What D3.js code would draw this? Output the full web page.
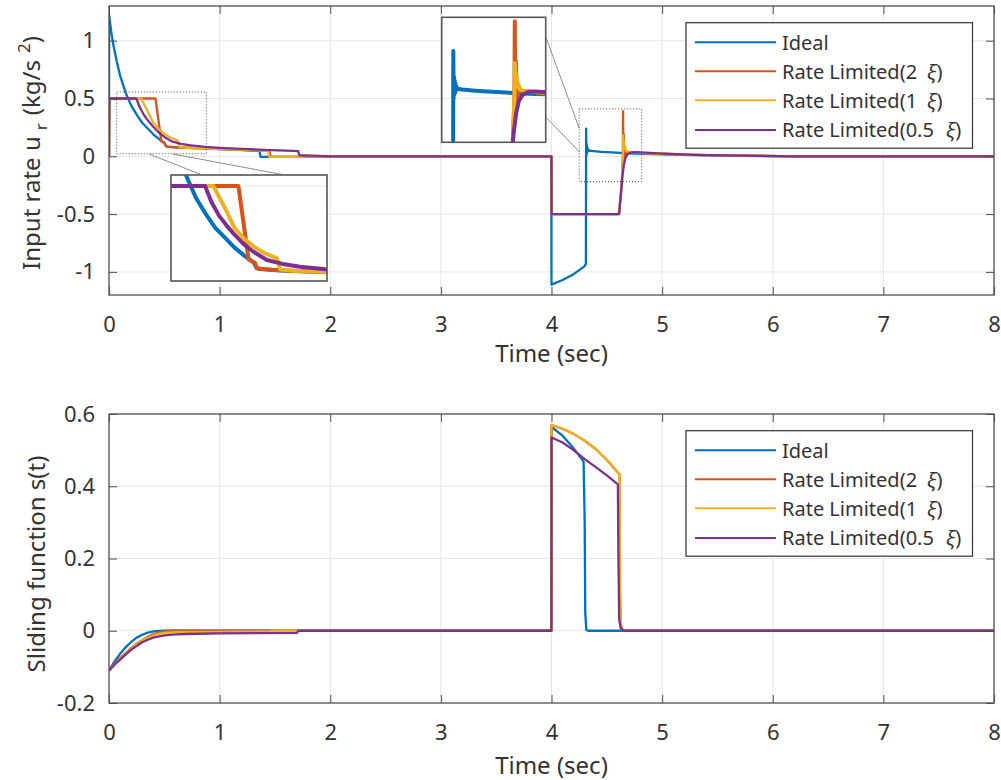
<!DOCTYPE html>
<html>
<head>
<meta charset="utf-8">
<script src="https://cdn.jsdelivr.net/npm/d3@7"></script>
<style>
body { margin: 0; background: #fff; }
svg text { font-family: "Noto Sans", sans-serif; fill: #333; }
</style>
</head>
<body>
<div id="main"></div>
<script>
const W = 1001;
const H = 780;

const seriesNames = ["Ideal", "Rate Limited(2", "Rate Limited(1", "Rate Limited(0.5"];
const seriesColors = ["#0072BD", "#D95319", "#EDB120", "#7E2F8E"];

const xDomain = [0, 8];
const xTicks = [0, 1, 2, 3, 4, 5, 6, 7, 8];
const topYDomain = [-1.2, 1.3];
const topYTicks = [-1, -0.5, 0, 0.5, 1];
const botYDomain = [-0.2, 0.6];
const botYTicks = [-0.2, 0, 0.2, 0.4, 0.6];

// input rate u_r, [time, value]
const uIdeal = [[0,0],[0.001,1.22],[0.02,1.08],[0.04,0.96],[0.07,0.82],[0.1,0.70],[0.15,0.55],[0.2,0.44],
  [0.25,0.36],[0.3,0.29],[0.35,0.24],[0.4,0.19],[0.45,0.15],[0.5,0.115],[0.512,0.09],[0.53,0.082],
  [0.6,0.077],[0.7,0.072],[0.9,0.066],[1.1,0.058],[1.3,0.05],[1.36,0.046],[1.37,-0.005],[1.5,-0.006],
  [1.75,-0.006],[1.8,-0.002],[2,0],[3.999,0],[4.0,-1.11],[4.1,-1.07],[4.2,-1.02],[4.3,-0.95],[4.311,-0.93],
  [4.313,0.24],[4.315,0.0],[4.317,0.11],[4.319,0.02],[4.321,0.09],[4.323,0.03],[4.325,0.075],[4.328,0.04],
  [4.331,0.06],[4.335,0.05],[4.36,0.046],[4.45,0.039],[4.55,0.033],[4.65,0.028],[4.75,0.024],[5.0,0.017],
  [5.3,0.01],[5.7,0.004],[6.2,0],[8,0]];
const uRate2 = [[0,0],[0.003,0.5],[0.42,0.5],[0.473,0.13],[0.505,0.115],[0.516,0.086],[0.6,0.078],
  [0.8,0.07],[1.0,0.063],[1.2,0.056],[1.4,0.05],[1.45,0.048],[1.46,-0.005],[1.74,-0.005],[1.78,0],
  [3.999,0],[4.0,-0.5],[4.61,-0.5],[4.635,-0.25],[4.645,0.0],[4.647,0.39],[4.650,-0.05],[4.653,0.19],
  [4.657,-0.02],[4.660,0.09],[4.664,0.01],[4.668,0.06],[4.675,0.04],[4.72,0.036],[4.8,0.03],[5.0,0.022],
  [5.3,0.012],[5.7,0.005],[6.2,0],[8,0]];
const uRate1 = [[0,0],[0.003,0.5],[0.29,0.5],[0.35,0.39],[0.4,0.29],[0.45,0.235],[0.5,0.195],[0.55,0.165],
  [0.6,0.145],[0.62,0.136],[0.637,0.08],[0.7,0.074],[0.9,0.066],[1.1,0.059],[1.3,0.053],[1.44,0.049],
  [1.45,-0.005],[1.74,-0.005],[1.78,0],[3.999,0],[4.0,-0.5],[4.61,-0.5],[4.635,-0.25],[4.645,0.0],
  [4.647,0.18],[4.652,0.08],[4.657,0.12],[4.662,0.06],[4.668,0.07],[4.675,0.045],[4.69,0.04],[4.72,0.036],
  [4.8,0.03],[5.0,0.022],[5.3,0.012],[5.7,0.005],[6.2,0],[8,0]];
const uRate05 = [[0,0],[0.003,0.5],[0.247,0.5],[0.28,0.42],[0.32,0.35],[0.36,0.30],[0.394,0.262],
  [0.45,0.205],[0.5,0.168],[0.568,0.128],[0.65,0.108],[0.74,0.094],[0.872,0.081],[1.0,0.073],[1.2,0.064],
  [1.4,0.056],[1.6,0.049],[1.71,0.045],[1.72,0.009],[1.9,0.004],[2.0,0],[3.999,0],[4.0,-0.5],[4.61,-0.5],
  [4.625,-0.35],[4.64,-0.18],[4.655,-0.07],[4.67,-0.01],[4.69,0.02],[4.72,0.033],[4.76,0.036],[4.85,0.031],
  [5.0,0.023],[5.3,0.012],[5.7,0.005],[6.2,0],[8,0]];

// sliding function s(t), [time, value]
const sIdeal = [[0,-0.11],[0.05,-0.085],[0.1,-0.064],[0.15,-0.046],[0.2,-0.031],[0.25,-0.019],[0.3,-0.011],
  [0.35,-0.005],[0.42,-0.001],[0.5,0],[3.999,0],[4.0,0.564],[4.1,0.54],[4.2,0.505],[4.29,0.468],
  [4.3,0.3],[4.305,0.05],[4.315,0.002],[4.33,0],[8,0]];
const sRate2 = [[0,-0.11],[0.05,-0.092],[0.1,-0.076],[0.15,-0.062],[0.2,-0.048],[0.25,-0.036],[0.3,-0.026],
  [0.35,-0.017],[0.4,-0.01],[0.45,-0.005],[0.5,-0.002],[0.55,0],[3.999,0],[4.0,0.569],[4.1,0.559],
  [4.2,0.545],[4.3,0.526],[4.4,0.503],[4.5,0.473],[4.6,0.438],[4.615,0.433],[4.62,0.1],[4.625,0.02],
  [4.64,0.003],[4.66,0],[8,0]];
const sRate1 = [[0,-0.11],[0.05,-0.093],[0.1,-0.078],[0.15,-0.064],[0.2,-0.05],[0.25,-0.038],[0.3,-0.028],
  [0.35,-0.02],[0.4,-0.013],[0.45,-0.009],[0.5,-0.006],[0.6,-0.004],[1.0,-0.003],[1.45,-0.002],[1.5,0],
  [3.999,0],[4.0,0.569],[4.1,0.559],[4.2,0.545],[4.3,0.526],[4.4,0.503],[4.5,0.473],[4.6,0.438],
  [4.615,0.433],[4.62,0.1],[4.625,0.02],[4.64,0.003],[4.66,0],[8,0]];
const sRate05 = [[0,-0.11],[0.05,-0.094],[0.1,-0.08],[0.15,-0.066],[0.2,-0.053],[0.25,-0.042],[0.3,-0.032],
  [0.35,-0.025],[0.4,-0.019],[0.5,-0.013],[0.6,-0.01],[0.7,-0.009],[1.0,-0.007],[1.7,-0.006],[1.71,0],
  [3.999,0],[4.0,0.535],[4.1,0.521],[4.2,0.5],[4.3,0.475],[4.4,0.453],[4.5,0.43],[4.6,0.405],
  [4.605,0.2],[4.612,0.03],[4.625,0.008],[4.65,0],[8,0]];

// zoomed windows of the top plot: [t0, t1, v0, v1]
const zoomLeft = [0.07, 0.88, 0.022, 0.556];
const zoomRight = [4.25, 4.815, -0.22, 0.41];

const GRID = "#e6e6e6";
const AXIS = "#4d4d4d";

var ctx = {
    top: {left: 109, right: 994, top: 6, bottom: 295},
    bot: {left: 109, right: 994, top: 414, bottom: 703},
};

var clipCount = 0;

var drawLines = function(g, series, x, y, width, box){
    var id = "clip" + (clipCount++);
    g.append("clipPath").attr("id", id)
     .append("rect")
     .attr("x", box.left).attr("y", box.top)
     .attr("width", box.right - box.left).attr("height", box.bottom - box.top);
    var line = d3.line().x(d => x(d[0])).y(d => y(d[1]));
    g.append("g").attr("clip-path", "url(#" + id + ")")
     .selectAll("path")
     .data(series)
     .enter()
     .append("path")
     .attr("d", d => line(d))
     .attr("fill", "none")
     .attr("stroke", (d, i) => seriesColors[i])
     .attr("stroke-width", width)
     .attr("stroke-linejoin", "round");
};

var makeAxes = function(svg, box, yDomain, yTicks, series){
    var x = d3.scaleLinear().domain(xDomain).range([box.left, box.right]);
    var y = d3.scaleLinear().domain(yDomain).range([box.bottom, box.top]);
    var g = svg.append("g");

    g.append("g").selectAll("line")
     .data(xTicks.slice(1, -1))
     .enter().append("line")
     .attr("x1", d => x(d)).attr("x2", d => x(d))
     .attr("y1", box.top).attr("y2", box.bottom)
     .attr("stroke", GRID);
    g.append("g").selectAll("line")
     .data(yTicks.filter(d => y(d) > box.top + 1 && y(d) < box.bottom - 1))
     .enter().append("line")
     .attr("x1", box.left).attr("x2", box.right)
     .attr("y1", d => y(d)).attr("y2", d => y(d))
     .attr("stroke", GRID);

    drawLines(g, series, x, y, 2.3, box);

    var axes = [
        g.append("g").attr("transform", "translate(0," + box.bottom + ")")
         .call(d3.axisBottom(x).tickValues(xTicks).tickSizeInner(-8).tickSizeOuter(0).tickPadding(21).tickFormat(d => String(d))),
        g.append("g").attr("transform", "translate(0," + box.top + ")")
         .call(d3.axisTop(x).tickValues(xTicks).tickSizeInner(-8).tickSizeOuter(0).tickFormat("")),
        g.append("g").attr("transform", "translate(" + box.left + ",0)")
         .call(d3.axisLeft(y).tickValues(yTicks).tickSizeInner(-8).tickSizeOuter(0).tickPadding(14).tickFormat(d => String(d))),
        g.append("g").attr("transform", "translate(" + box.right + ",0)")
         .call(d3.axisRight(y).tickValues(yTicks).tickSizeInner(-8).tickSizeOuter(0).tickFormat(""))
    ];
    axes.forEach(function(a){
        a.attr("color", AXIS).attr("font-size", 22).attr("font-family", null);
        a.select(".domain").remove();
        a.selectAll("text").style("fill", "#333");
    });

    g.append("rect")
     .attr("x", box.left).attr("y", box.top)
     .attr("width", box.right - box.left).attr("height", box.bottom - box.top)
     .attr("fill", "none").attr("stroke", AXIS).attr("stroke-width", 1.3);

    return {x: x, y: y, g: g};
};

var makeInset = function(ax, win, rect, yGrid, series){
    var g = ax.g.append("g");
    // dotted source window
    g.append("rect")
     .attr("x", ax.x(win[0])).attr("y", ax.y(win[3]))
     .attr("width", ax.x(win[1]) - ax.x(win[0])).attr("height", ax.y(win[2]) - ax.y(win[3]))
     .attr("fill", "none").attr("stroke", "#444").attr("stroke-width", 1)
     .attr("stroke-dasharray", "1,2");
    var ix = d3.scaleLinear().domain([win[0], win[1]]).range([rect.left, rect.right]);
    var iy = d3.scaleLinear().domain([win[2], win[3]]).range([rect.bottom, rect.top]);
    g.append("rect")
     .attr("x", rect.left).attr("y", rect.top)
     .attr("width", rect.right - rect.left).attr("height", rect.bottom - rect.top)
     .attr("fill", "#fff");
    g.append("line")
     .attr("x1", rect.left).attr("x2", rect.right)
     .attr("y1", iy(yGrid)).attr("y2", iy(yGrid))
     .attr("stroke", GRID);
    drawLines(g, series, ix, iy, 4, rect);
    g.append("rect")
     .attr("x", rect.left).attr("y", rect.top)
     .attr("width", rect.right - rect.left).attr("height", rect.bottom - rect.top)
     .attr("fill", "none").attr("stroke", "#555").attr("stroke-width", 1.6);
    return g;
};

var connector = function(g, x1, y1, x2, y2){
    g.append("line")
     .attr("x1", x1).attr("y1", y1).attr("x2", x2).attr("y2", y2)
     .attr("stroke", "#8c8c8c").attr("stroke-width", 1);
};

var makeLegend = function(svg, top){
    var lg = svg.append("g").attr("transform", "translate(686," + top + ")");
    lg.append("rect")
      .attr("width", 286.5).attr("height", 125.5)
      .attr("fill", "#fff").attr("stroke", "#333").attr("stroke-width", 1.2);
    var rows = [19.6, 48.6, 77.6, 107.3];
    var xiDx = [0, 10, 10, 12];
    seriesNames.forEach(function(name, i){
        lg.append("line")
          .attr("x1", 9).attr("x2", 90)
          .attr("y1", rows[i]).attr("y2", rows[i])
          .attr("stroke", seriesColors[i]).attr("stroke-width", 2);
        var t = lg.append("text")
          .attr("x", 96).attr("y", rows[i] + 7.5)
          .attr("font-size", 20)
          .text(name);
        if (i > 0) {
            t.append("tspan").attr("dx", xiDx[i]).attr("font-style", "italic").text("ξ");
            t.append("tspan").text(")");
        }
    });
};

var createViz = function(){
    var svg = d3.select("#main").append("svg")
        .attr("width", W).attr("height", H);

    var top = makeAxes(svg, ctx.top, topYDomain, topYTicks, [uIdeal, uRate2, uRate1, uRate05]);
    var bot = makeAxes(svg, ctx.bot, botYDomain, botYTicks, [sIdeal, sRate2, sRate1, sRate05]);

    // zoom insets on the top plot
    var leftRect = {left: 171, right: 327, top: 175, bottom: 281};
    var rightRect = {left: 441.7, right: 545.7, top: 17.3, bottom: 142.3};
    connector(top.g, 149, 154, 201, 174.5);
    connector(top.g, 173, 154, 282, 174.5);
    connector(top.g, 545.7, 36.7, 579.3, 128.3);
    connector(top.g, 545.7, 117, 579.3, 151.7);
    makeInset(top, zoomLeft, leftRect, 0.5, [uIdeal, uRate2, uRate1, uRate05]);
    makeInset(top, zoomRight, rightRect, 0, [uIdeal, uRate2, uRate1, uRate05]);

    makeLegend(svg, 22.7);
    makeLegend(svg, 430.7);

    // axis labels
    [[ctx.top, 362], [ctx.bot, 774]].forEach(function(p){
        svg.append("text")
           .attr("x", (p[0].left + p[0].right) / 2).attr("y", p[1])
           .attr("text-anchor", "middle").attr("font-size", 24)
           .text("Time (sec)");
    });

    var yl1 = svg.append("text")
       .attr("transform", "translate(40,153) rotate(-90)")
       .attr("text-anchor", "middle").attr("font-size", 24);
    yl1.append("tspan").text("Input rate u");
    yl1.append("tspan").attr("dx", 6).attr("dy", 7).attr("font-size", 17).text("r");
    yl1.append("tspan").attr("dx", 8).attr("dy", -7).text("(kg/s");
    yl1.append("tspan").attr("dx", 7).attr("dy", -10).attr("font-size", 17).text("2");
    yl1.append("tspan").attr("dy", 10).text(")");

    svg.append("text")
       .attr("transform", "translate(45,564) rotate(-90)")
       .attr("text-anchor", "middle").attr("font-size", 24)
       .text("Sliding function s(t)");
};

createViz();
</script>
</body>
</html>
